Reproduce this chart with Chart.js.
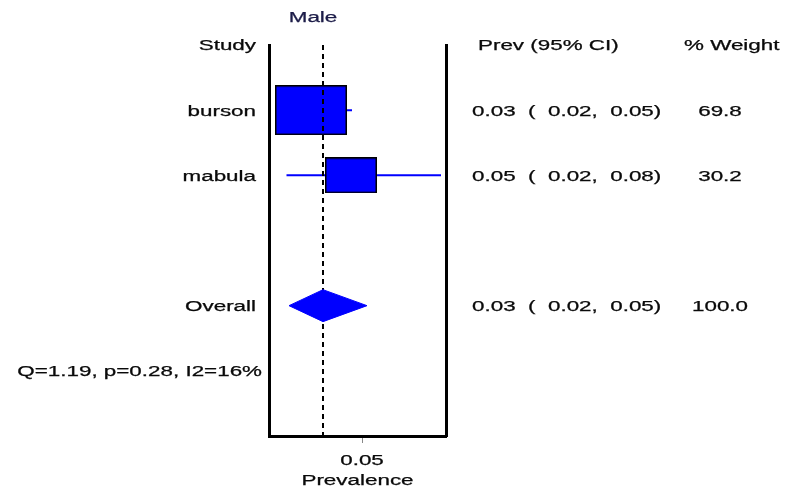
<!DOCTYPE html>
<html><head><meta charset="utf-8">
<script src="https://cdn.jsdelivr.net/npm/chart.js@4/dist/chart.umd.min.js"></script>
<style>html,body{margin:0;padding:0;background:#fff}#wrap{width:793px;height:493px}</style>
</head><body><div id="wrap"><canvas id="c" width="793" height="493"></canvas></div>
<script>
// ---- data ----
const studies = ['burson', 'mabula'];
const estimates = [0.0296, 0.0456];
const lowerCI = [0.017, 0.0198];
const upperCI = [0.046, 0.0816];
const weights = [69.8, 30.2];
const overallLabel = 'Overall';
const overallEst = 0.0344;
const overallLower = 0.0208;
const overallUpper = 0.052;
const overallWeight = 100.0;
const heterogeneity = 'Q=1.19, p=0.28, I2=16%';
const xTicks = [0.05];
const titleText = 'Male';
const xTitle = 'Prevalence';
const headers = ['Study', 'Prev (95% CI)', '% Weight'];

// ---- layout of rows ----
const studyRows = studies.map((s, i) => i + 1);
const overallRow = 4;
const hetRow = 5;

function boxCanvas(w) {
  const h = Math.round(9.53 * Math.pow(w, 0.39));
  const wd = Math.round(h * 1.44);
  const c = document.createElement('canvas');
  c.width = wd; c.height = h;
  const g = c.getContext('2d');
  g.fillStyle = '#0000ff';
  g.fillRect(0, 0, wd, h);
  g.strokeStyle = '#000';
  g.lineWidth = 1.5;
  g.strokeRect(0.75, 0.75, wd - 1.5, h - 1.5);
  return c;
}

const dHalf = 0.245;
const datasets = [];
datasets.push({
  type: 'line',
  data: [
    {x: overallLower, y: overallRow},
    {x: overallEst, y: overallRow - dHalf},
    {x: overallUpper, y: overallRow},
    {x: overallEst, y: overallRow + dHalf},
    {x: overallLower, y: overallRow}
  ],
  borderColor: '#0000ff', backgroundColor: '#0000ff', borderWidth: 1,
  pointRadius: 0, fill: 'shape', tension: 0
});
datasets.push({
  type: 'line',
  data: [{x: overallEst, y: 0}, {x: overallEst, y: 6}],
  borderColor: '#000', borderWidth: 2, borderDash: [5, 4],
  pointRadius: 0, fill: false
});
datasets.push({
  type: 'scatter',
  data: studies.map((s, i) => ({x: estimates[i], y: studyRows[i]})),
  pointStyle: weights.map(boxCanvas),
  pointRadius: 5
});
studies.forEach((s, i) => {
  datasets.push({
    type: 'line',
    data: [{x: lowerCI[i], y: studyRows[i]}, {x: upperCI[i], y: studyRows[i]}],
    borderColor: '#0000ff', borderWidth: 2, pointRadius: 0, fill: false
  });
});

const SX = 1.6;
const textPlugin = {
  id: 'texts',
  afterDraw(chart) {
    const ctx = chart.ctx, xs = chart.scales.x, ys = chart.scales.y;
    const put = (t, x, y, align, color) => {
      ctx.save();
      ctx.translate(x, y + 1.5);
      ctx.scale(SX, 1);
      ctx.textAlign = align;
      ctx.textBaseline = 'middle';
      ctx.fillStyle = color || '#0a0a0a';
      ctx.strokeStyle = color || '#0a0a0a';
      ctx.lineWidth = 0.25;
      ctx.fillText(t, 0, 0);
      ctx.strokeText(t, 0, 0);
      ctx.restore();
    };
    ctx.font = '14px "Liberation Sans", Arial, sans-serif';
    const f = v => v.toFixed(2);
    const ci = (e, l, u) => f(e) + '  (  ' + f(l) + ',  ' + f(u) + ')';
    put(titleText, 313, 16.5, 'center', '#1c1c48');
    const hy = ys.getPixelForValue(0);
    put(headers[0], 256, hy, 'right');
    put(headers[1], 478, hy, 'left');
    put(headers[2], 684, hy, 'left');
    studies.forEach((s, i) => {
      const y = ys.getPixelForValue(studyRows[i]);
      put(s, 256, y, 'right');
      put(ci(estimates[i], lowerCI[i], upperCI[i]), 472, y, 'left');
      put(weights[i].toFixed(1), 720, y, 'center');
    });
    const oy = ys.getPixelForValue(overallRow);
    put(overallLabel, 256, oy, 'right');
    put(ci(overallEst, overallLower, overallUpper), 472, oy, 'left');
    put(overallWeight.toFixed(1), 720, oy, 'center');
    put(heterogeneity, 262, ys.getPixelForValue(hetRow), 'right');
    xTicks.forEach(v => put(v.toFixed(2), xs.getPixelForValue(v), 459.5, 'center'));
    put(xTitle, (chart.chartArea.left + chart.chartArea.right) / 2, 479.5, 'center');
  }
};

new Chart(document.getElementById('c'), {
  type: 'scatter',
  data: {datasets},
  options: {
    responsive: false,
    animation: false,
    devicePixelRatio: 1,
    layout: {padding: {left: 269, right: 347, top: 45, bottom: 57}},
    plugins: {legend: {display: false}, tooltip: {enabled: false}},
    scales: {
      x: {
        type: 'linear', position: 'bottom', min: 0.0128, max: 0.0836,
        ticks: {display: false},
        grid: {display: true, drawOnChartArea: false, drawTicks: true, tickLength: 7, color: '#888', lineWidth: 1},
        border: {display: true, width: 3, color: '#000'},
        afterBuildTicks: s => { s.ticks = xTicks.map(v => ({value: v})); },
        afterFit: s => { s.height = 0; }
      },
      y: {
        type: 'linear', position: 'left', min: 0, max: 6, reverse: true,
        ticks: {display: false},
        grid: {display: false},
        border: {display: true, width: 3, color: '#000'},
        afterFit: s => { s.width = 0; }
      },
      y2: {
        type: 'linear', position: 'right', min: 0, max: 6, reverse: true,
        ticks: {display: false},
        grid: {display: false},
        border: {display: true, width: 3, color: '#000'},
        afterFit: s => { s.width = 0; }
      }
    }
  },
  plugins: [textPlugin]
});
</script>
</body></html>
